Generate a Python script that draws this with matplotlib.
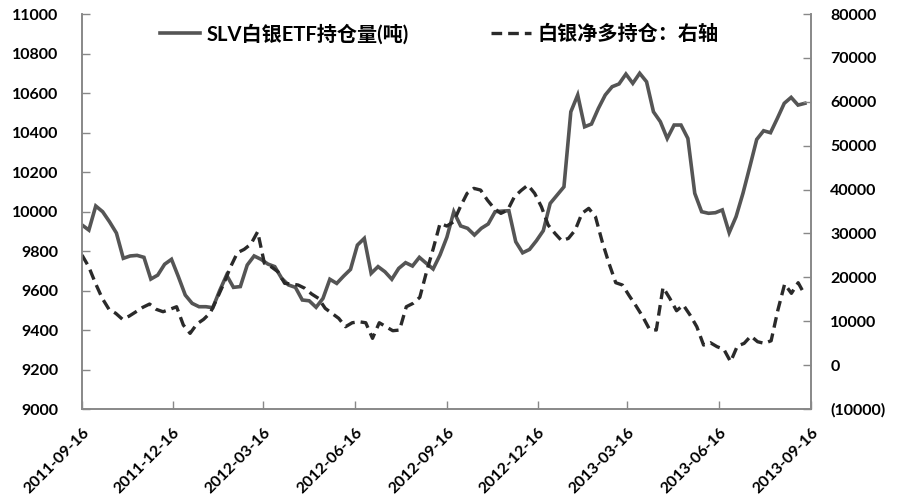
import numpy as np
import pandas as pd
import matplotlib
matplotlib.use("Agg")
import matplotlib.pyplot as plt
from matplotlib.ticker import FuncFormatter

plt.rcParams['font.family'] = ['Lato', 'Noto Sans CJK SC', 'DejaVu Sans']

# SLV silver ETF holdings (tonnes), weekly, left axis
slv_holdings = [
    9932, 9906, 10028, 9999, 9948, 9891, 9763, 9775, 9778, 9768,
    9658, 9678, 9733, 9758, 9670, 9577, 9535, 9518, 9518, 9513,
    9600, 9678, 9616, 9620, 9729, 9775, 9758, 9734, 9721, 9662,
    9628, 9616, 9552, 9548, 9515, 9560, 9657, 9636, 9673, 9707,
    9830, 9864, 9687, 9721, 9695, 9657, 9712, 9741, 9724, 9768,
    9738, 9709, 9780, 9870, 9999, 9927, 9915, 9881, 9915, 9937,
    9999, 10002, 10004, 9847, 9791, 9808, 9852, 9903, 10041, 10083,
    10125, 10505, 10590, 10429, 10443, 10522, 10590, 10632, 10646, 10696,
    10649, 10700, 10657, 10505, 10455, 10370, 10438, 10438, 10370, 10092,
    9999, 9991, 9994, 10008, 9893, 9974, 10092, 10227, 10365, 10409,
    10399, 10472, 10548, 10578, 10539, 10548,
]

# silver net long positions (contracts), weekly, right axis
net_long = [
    25081, 22415, 18630, 15215, 12711, 11800, 10433, 11185, 12166, 13167,
    13918, 12711, 12166, 12711, 13304, 9135, 7240, 9363, 10433, 11937,
    15215, 18630, 22415, 25604, 26378, 27587, 30390, 23191, 22415, 21276,
    18630, 18500, 18247, 17495, 16196, 15215, 12939, 11800, 10661, 8749,
    9659, 9887, 9659, 6105, 9659, 8749, 7838, 7996, 13304, 14078,
    15445, 21276, 26607, 32302, 31687, 32667, 36084, 39136, 40275, 39889,
    37609, 35718, 34579, 35331, 38362, 39800, 41027, 39136, 36084, 31915,
    30023, 28338, 28884, 30776, 34579, 35718, 33806, 28110, 23191, 18780,
    18247, 15800, 13500, 11033, 8156, 7996, 17723, 15215, 12393, 13691,
    11413, 8749, 4579, 5110, 4200, 3600, 782, 4352, 4958, 6630,
    5330, 4958, 5558, 12552, 18475, 16356, 18780, 15970,
]

start_date = "2011-09-16"
end_date = "2013-09-10"
tick_dates = ["2011-09-16", "2011-12-16", "2012-03-16", "2012-06-16", "2012-09-16",
              "2012-12-16", "2013-03-16", "2013-06-16", "2013-09-16"]

slv_label = "SLV白银ETF持仓量(吨)"
net_label = "白银净多持仓：右轴"

slv_dates = pd.date_range(start_date, end_date, periods=len(slv_holdings))
net_dates = pd.date_range(start_date, end_date, periods=len(net_long))

fig = plt.figure(figsize=(9, 5.01), dpi=100)
ax = fig.add_axes([0.0911, 0.1836, 0.8099, 0.7884])
ax2 = ax.twinx()

l1, = ax.plot(slv_dates, slv_holdings, color="#555555", lw=2.6, solid_joinstyle="miter")
l2, = ax2.plot(net_dates, net_long, color="#2a2a2a", lw=2.4, dashes=(3.2, 1.8))

ax.set_ylim(9000, 11000)
ax.set_yticks(np.arange(9000, 11001, 200))
ax2.set_ylim(-10000, 80000)
ax2.set_yticks(np.arange(-10000, 80001, 10000))
ax2.yaxis.set_major_formatter(FuncFormatter(lambda v, p: f"({abs(int(v))})" if v < 0 else f"{int(v)}"))

ticks = pd.to_datetime(tick_dates)
ax.set_xlim(ticks[0], ticks[-1])
ax.set_xticks(ticks)
ax.set_xticklabels([t.strftime("%Y-%m-%d") for t in ticks], rotation=45, ha="right",
                   rotation_mode="anchor", fontsize=11.5, fontweight="bold")

for a in (ax, ax2):
    a.spines["top"].set_visible(False)
    for s in ("left", "right", "bottom"):
        a.spines[s].set_color("#888888")
        a.spines[s].set_linewidth(1.2)
    a.tick_params(axis="both", direction="in", length=6, width=1.0, color="#888888")
    for lab in a.get_yticklabels():
        lab.set_fontweight("bold")
        lab.set_fontsize(11.5)

ax.tick_params(axis="y", pad=17)
ax2.tick_params(axis="y", pad=14)
ax.tick_params(axis="x", pad=12)

fig.legend([l1, l2], [slv_label, net_label], loc="center left",
           bbox_to_anchor=(160 / 900, 1 - 34 / 501), ncol=2, frameon=False,
           borderpad=0, borderaxespad=0, columnspacing=4.1, handlelength=2.0,
           handletextpad=0.3, prop={"family": ["Lato", "Noto Sans CJK SC"],
                                    "size": 14.5, "weight": "bold"})

fig.savefig("out.png", dpi=100)
